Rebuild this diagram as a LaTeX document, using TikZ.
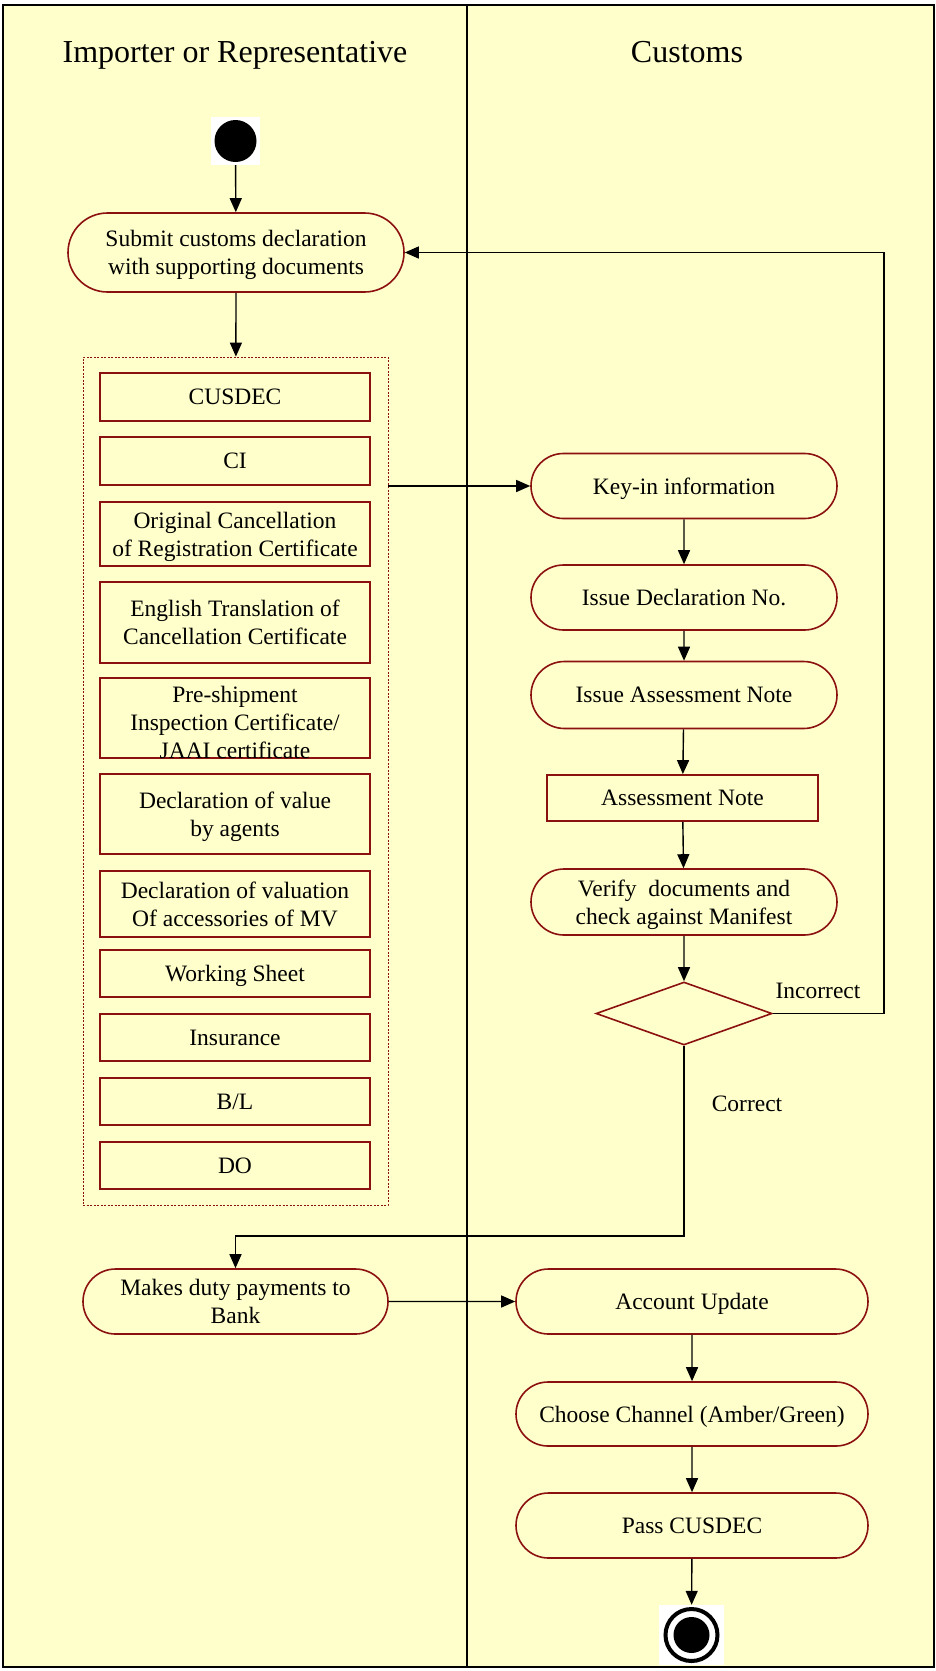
\documentclass[tikz,border=0pt]{standalone}
\usepackage{fontspec}
\setmainfont{Liberation Serif}
\usepackage{tikz}
\usetikzlibrary{positioning,shapes.misc,shapes.geometric,arrows.meta}
\definecolor{LaneYellow}{HTML}{FFFFCC}
\definecolor{ActRed}{HTML}{8B1010}
\newcommand{\actfont}{\fontsize{23.5}{28}\selectfont}
\newcommand{\lanefont}{\fontsize{32}{38}\selectfont}

\begin{document}
\begin{tikzpicture}[x=1pt,y=-1pt,
    act/.style={rounded rectangle, draw=ActRed, line width=1.6pt, align=center, inner sep=0pt, text depth=0pt, font=\actfont},
    doc/.style={rectangle, draw=ActRed, line width=1.8pt, align=center, inner sep=0pt, text depth=0pt, minimum width=270pt, font=\actfont},
    flow/.style={-{Triangle[length=14pt,width=12pt]}, line width=1.4pt},
    lbl/.style={font=\actfont, anchor=base}]
      \useasboundingbox (0,0) rectangle (935,1671);
      % Swimlanes
      \fill[LaneYellow] (3,5) rectangle (934,1667);
      \draw[line width=2.2pt] (3,5) rectangle (934,1667);
      \draw[line width=2.2pt] (467,5) -- (467,1667);
      \node[anchor=base, font=\lanefont] (importer) at (235,62) {Importer or Representative};
      \node[anchor=base, font=\lanefont] (customs) at (687,62) {Customs};

      % Start
      \node[fill=white, inner sep=0pt, minimum width=49pt, minimum height=48pt] (init) at (235.5,141) {};
      \fill (init) circle (21);
      \node[act, minimum width=336pt, minimum height=79pt] (submit) at (236,252.5) {Submit customs declaration\\with supporting documents};

      % Supporting documents
      \node[draw=ActRed, line width=0.8pt, dash pattern=on 2pt off 1.5pt, minimum width=305pt, minimum height=848pt, inner sep=0pt] (docset) at (235.5,781) {};
      \node[doc, minimum height=48pt] (cusdec) at (235,397) {CUSDEC};
      \node[doc, minimum height=48pt] (ci) at (235,461) {CI};
      \node[doc, minimum height=64pt] (origcert) at (235,534) {Original Cancellation\\of Registration Certificate};
      \node[doc, minimum height=81pt] (engtrans) at (235,622.5) {English Translation of\\Cancellation Certificate};
      \node[doc, minimum height=80pt] (preship) at (235,718) {};
      \node[font=\actfont, align=center, inner sep=0pt] (preshiptxt) at (235,722) {Pre-shipment\\Inspection Certificate/\\JAAI certificate};
      \node[doc, minimum height=80pt] (valagents) at (235,814) {Declaration of value\\by agents};
      \node[doc, minimum height=66pt] (valaccess) at (235,904) {Declaration of valuation\\Of accessories of MV};
      \node[doc, minimum height=47pt] (worksheet) at (235,973.5) {Working Sheet};
      \node[doc, minimum height=47pt] (insurance) at (235,1037.5) {Insurance};
      \node[doc, minimum height=47pt] (bl) at (235,1101.5) {B/L};
      \node[doc, minimum height=47pt] (dorder) at (235,1165.5) {DO};

      % Customs processing
      \node[act, minimum width=306pt, minimum height=65pt] (keyin) at (684,486) {Key-in information};
      \node[act, minimum width=306pt, minimum height=65pt] (declno) at (684,597.5) {Issue Declaration No.};
      \node[act, minimum width=306pt, minimum height=67pt] (issuenote) at (684,695) {Issue Assessment Note};
      \node[doc, minimum width=271pt, minimum height=46pt] (note) at (682.5,798) {Assessment Note};
      \node[act, minimum width=306pt, minimum height=66pt] (verify) at (684,902) {Verify\ \ documents and\\check against Manifest};
      \node[diamond, draw=ActRed, line width=1.6pt, aspect=2.8, minimum width=176pt, minimum height=63pt, inner sep=0pt] (check) at (684,1013.5) {};
      \node[lbl] (incorrect) at (818,998) {Incorrect};
      \node[lbl] (correct) at (747,1111) {Correct};

      % Payment and release
      \node[act, minimum width=305pt, minimum height=65pt] (payment) at (235.5,1301.5) {Makes duty payments to\\Bank};
      \node[act, minimum width=352pt, minimum height=65pt] (account) at (692,1301.5) {Account Update};
      \node[act, minimum width=352pt, minimum height=64pt] (channel) at (692,1414) {Choose Channel (Amber/Green)};
      \node[act, minimum width=352pt, minimum height=65pt] (pass) at (692,1525.5) {Pass CUSDEC};

      % End
      \node[fill=white, inner sep=0pt, minimum width=65pt, minimum height=60pt] (final) at (691.5,1635) {};
      \draw[line width=4pt] (final) circle (26);
      \fill (final) circle (18);

      % Flows
      \coordinate (loopx) at (884,0);
      \coordinate (payturn) at (684,1236);
      \draw[flow] (init) -- (submit);
      \draw[flow] (submit) -- (docset);
      \draw[flow] (docset.east |- keyin.west) -- (keyin);
      \draw[flow] (keyin) -- (declno);
      \draw[flow] (declno) -- (issuenote);
      \draw[flow] (issuenote) -- (note);
      \draw[flow] (note) -- (verify);
      \draw[flow] (verify) -- (check);
      \draw[flow] (check.east) -- (check.east -| loopx) -- (submit.east -| loopx) -- (submit.east);
      \draw[flow] (check.south) -- (payturn) -| (payment.north);
      \draw[flow] (payment) -- (account);
      \draw[flow] (account) -- (channel);
      \draw[flow] (channel) -- (pass);
      \draw[flow] (pass) -- (final);
\end{tikzpicture}
\end{document}
